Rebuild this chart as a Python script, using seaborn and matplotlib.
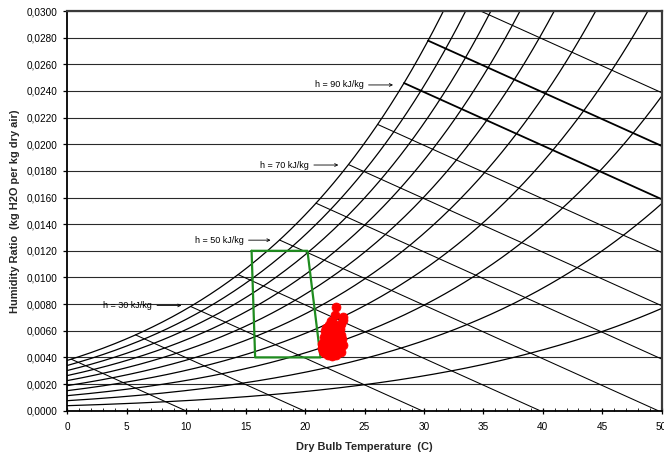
import numpy as np
import pandas as pd
import matplotlib
matplotlib.use("Agg")
import matplotlib.pyplot as plt
import seaborn as sns
from matplotlib.ticker import FuncFormatter, MultipleLocator

# ---------------- data ----------------
rh_levels = [10, 20, 30, 40, 50, 60, 70, 80, 90, 100]          # % relative humidity curves
h_levels = [10, 20, 30, 40, 50, 60, 70, 80, 90, 100, 110]      # kJ/kg enthalpy lines
thick_h = [90, 100]
pressure_kpa = 101.325

comfort_T = [15.5, 20.2, 21.3, 15.8, 15.5]
comfort_W = [0.0120, 0.0120, 0.0040, 0.0040, 0.0120]

meas_T = [22.6, 22.55, 23.15, 23.0, 22.2, 22.0, 22.4, 22.6, 21.8, 22.9, 22.3, 21.7,
          22.1, 22.7, 23.0, 21.9, 22.4, 22.8, 21.6, 22.2, 23.1, 21.8, 22.5, 22.9,
          21.5, 22.1, 22.7, 23.2, 21.7, 22.3, 21.4, 22.0, 22.8, 22.5, 21.6, 23.0,
          22.2, 21.9, 22.6, 22.3, 21.5, 21.7, 22.4, 22.0, 22.9, 23.2, 21.4]
meas_W = [0.0078, 0.0072, 0.0068, 0.0065, 0.0067, 0.0064, 0.0065, 0.0062, 0.0062, 0.0061, 0.0061, 0.0060,
          0.0059, 0.0059, 0.0057, 0.0057, 0.0056, 0.0056, 0.0055, 0.0054, 0.0054, 0.0053, 0.0052, 0.0052,
          0.0051, 0.0051, 0.0050, 0.0049, 0.0049, 0.0048, 0.0047, 0.0046, 0.0046, 0.0045, 0.0044, 0.0044,
          0.0043, 0.0042, 0.0042, 0.0041, 0.0045, 0.0043, 0.0047, 0.0053, 0.0048, 0.0070, 0.0050]

label_h = [30, 50, 70, 90]
label_tip_T = [9.6, 17.1, 22.8, 27.4]
label_W = [0.0079, 0.0128, 0.01844, 0.02445]
label_end_T = [7.15, 14.85, 20.35, 24.95]

x_ticks = [0, 5, 10, 15, 20, 25, 30, 35, 40, 45, 50]
y_ticks = [0.000, 0.002, 0.004, 0.006, 0.008, 0.010, 0.012, 0.014, 0.016, 0.018,
           0.020, 0.022, 0.024, 0.026, 0.028, 0.030]


# ---------------- psychrometrics ----------------
def p_ws(t_c):
    tk = np.asarray(t_c, dtype=float) + 273.15
    ln_p = (-5.8002206e3 / tk + 1.3914993 - 4.8640239e-2 * tk + 4.1764768e-5 * tk ** 2
            - 1.4452093e-8 * tk ** 3 + 6.5459673 * np.log(tk))
    return np.exp(ln_p) / 1000.0  # kPa


def w_rh(t_c, rh):
    pw = rh / 100.0 * p_ws(t_c)
    return 0.621945 * pw / (pressure_kpa - pw)


def enth(t_c, w):
    return 1.006 * t_c + 2501.0 * w


def t_sat_for_h(h):
    lo, hi = -10.0, 60.0
    for _ in range(80):
        mid = 0.5 * (lo + hi)
        if enth(mid, w_rh(mid, 100)) < h:
            lo = mid
        else:
            hi = mid
    return 0.5 * (lo + hi)


t_grid = np.linspace(0, 50, 251)
rh_rows = []
for rh in rh_levels:
    for t, w in zip(t_grid, w_rh(t_grid, rh)):
        rh_rows.append({"T": t, "W": w, "curve": rh})
rh_df = pd.DataFrame(rh_rows)

h_rows = []
for h in h_levels:
    ts = t_sat_for_h(h)
    ws = float(w_rh(ts, 100))
    te = h / 1.006
    we = 0.0
    if te > 50:
        te = 50.0
        we = (h - 1.006 * 50) / 2501.0
    h_rows.append({"T": ts, "W": ws, "h": h, "thick": h in thick_h})
    h_rows.append({"T": te, "W": we, "h": h, "thick": h in thick_h})
h_df = pd.DataFrame(h_rows)

comfort_df = pd.DataFrame({"T": comfort_T, "W": comfort_W, "g": 0})
meas_df = pd.DataFrame({"T": meas_T, "W": meas_W})

# ---------------- plot ----------------
sns.set_theme(style="white")
plt.rcParams["font.family"] = ["Liberation Sans", "DejaVu Sans"]

fig = plt.figure(figsize=(6.64, 4.55), dpi=100)
ax = fig.add_axes([0.1014, 0.0974, 0.8951, 0.8784])

ax.set_axisbelow(True)
ax.yaxis.grid(True, color="#2a2a2a", linewidth=0.8)
ax.xaxis.grid(False)

sns.lineplot(data=rh_df, x="T", y="W", units="curve", estimator=None, sort=False,
             color="black", linewidth=0.9, ax=ax, legend=False)
sns.lineplot(data=h_df[~h_df["thick"]], x="T", y="W", units="h", estimator=None, sort=False,
             color="black", linewidth=0.75, ax=ax, legend=False)
sns.lineplot(data=h_df[h_df["thick"]], x="T", y="W", units="h", estimator=None, sort=False,
             color="black", linewidth=1.3, ax=ax, legend=False)
sns.lineplot(data=comfort_df, x="T", y="W", units="g", estimator=None, sort=False,
             color="#1f8c1f", linewidth=1.6, ax=ax, legend=False)
sns.scatterplot(data=meas_df, x="T", y="W", color="#ff0000", s=42, edgecolor="#ff0000",
                linewidth=0.5, marker="o", ax=ax, legend=False, zorder=5)

for h, tt, ww, te in zip(label_h, label_tip_T, label_W, label_end_T):
    ax.annotate(f"h = {h} kJ/kg", xy=(tt, ww), xytext=(te, ww), ha="right", va="center",
                fontsize=6.5, color="black",
                arrowprops=dict(arrowstyle="->", lw=0.6, color="black", relpos=(1.0, 0.5),
                                shrinkA=1, shrinkB=0, mutation_scale=5))

ax.set_xlim(0, 50)
ax.set_ylim(0, 0.03)
ax.set_xticks(x_ticks)
ax.set_yticks(y_ticks)
ax.xaxis.set_minor_locator(MultipleLocator(1))
ax.yaxis.set_major_formatter(FuncFormatter(lambda v, _: f"{v:.4f}".replace(".", ",")))
ax.tick_params(axis="x", which="major", direction="inout", length=5, width=0.9,
               labelsize=7.2, pad=6, colors="black", bottom=True)
ax.tick_params(axis="x", which="minor", direction="in", length=2.5, width=0.7, bottom=True)
ax.tick_params(axis="y", which="major", direction="out", length=3, width=0.9,
               labelsize=7.2, pad=4, colors="black", left=True)

for side in ["left", "bottom"]:
    ax.spines[side].set_color("black")
    ax.spines[side].set_linewidth(1.3)
for side in ["top", "right"]:
    ax.spines[side].set_color("#3a3a3a")
    ax.spines[side].set_linewidth(1.6)

ax.set_xlabel("Dry Bulb Temperature  (C)", fontsize=7.9, fontweight="bold", labelpad=7)
ax.set_ylabel("Humidity Ratio  (kg H2O per kg dry air)", fontsize=7.9, fontweight="bold",
              labelpad=5)

fig.savefig("out.png", dpi=100)
